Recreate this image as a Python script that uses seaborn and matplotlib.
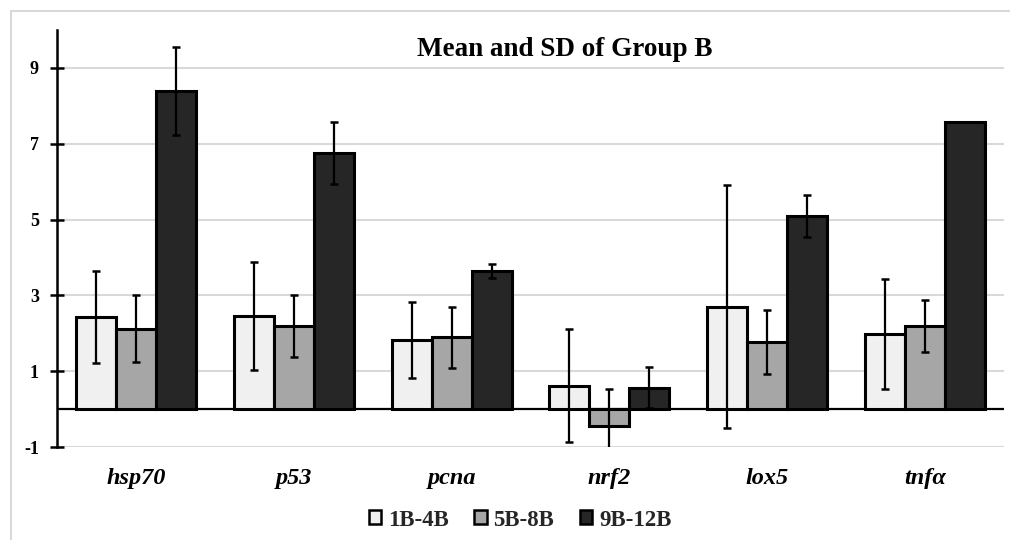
import numpy as np
import pandas as pd
import matplotlib
matplotlib.use("Agg")
import matplotlib.pyplot as plt
import seaborn as sns
from matplotlib.patches import Rectangle, Patch

genes = ["hsp70", "p53", "pcna", "nrf2", "lox5", "tnfα"]
groups = ["1B-4B", "5B-8B", "9B-12B"]
mean_1_4 = [2.43, 2.45, 1.82, 0.62, 2.70, 1.98]
mean_5_8 = [2.12, 2.19, 1.89, -0.44, 1.77, 2.20]
mean_9_12 = [8.40, 6.76, 3.64, 0.56, 5.10, 7.56]
sd_1_4 = [1.21, 1.42, 1.01, 1.49, 3.21, 1.45]
sd_5_8 = [0.88, 0.82, 0.80, 0.98, 0.84, 0.69]
sd_9_12 = [1.16, 0.82, 0.19, 0.54, 0.56, np.nan]
y_ticks = [-1, 1, 3, 5, 7, 9]
title = "Mean and SD of Group B"

colors = ["#f0f0f0", "#a6a6a6", "#262626"]

sns.set_theme(style="white")
plt.rcParams['font.family'] = ['Liberation Serif', 'DejaVu Serif']
plt.rcParams['axes.unicode_minus'] = False

rows = []
for grp, means in zip(groups, [mean_1_4, mean_5_8, mean_9_12]):
    for g, m in zip(genes, means):
        rows.append({"gene": g, "group": grp, "mean": m})
df = pd.DataFrame(rows)

W, H = 1010, 540
fig = plt.figure(figsize=(W / 100, H / 100), dpi=100)
fig.patch.set_facecolor("white")
ax = fig.add_axes([57 / W, 1 - 447 / H, (1004 - 57) / W, (447 - 30) / H])

ax.set_axisbelow(True)
ax.yaxis.grid(True, color="#d9d9d9", lw=1.5)
ax.xaxis.grid(False)
ax.axhline(0, color="black", lw=1.6, zorder=1.5)

sns.barplot(data=df, x="gene", y="mean", hue="group", order=genes,
            hue_order=groups, palette=colors, saturation=1, width=0.76,
            edgecolor="black", linewidth=2.2, errorbar=None, legend=False,
            ax=ax, zorder=2)

for cont, sds in zip(ax.containers, [sd_1_4, sd_5_8, sd_9_12]):
    for bar, sd in zip(cont, sds):
        if np.isnan(sd):
            continue
        x = bar.get_x() + bar.get_width() / 2
        yv = bar.get_y() + bar.get_height()
        ax.errorbar(x, yv, yerr=sd, fmt="none", ecolor="black", elinewidth=1.6,
                    capsize=3.2, capthick=1.8, zorder=4)

ax.set_ylim(-1, 10)
ax.set_xlim(-0.5, 5.5)
ax.set_yticks(y_ticks)
ax.set_yticklabels([str(t) for t in y_ticks])
ax.set_xlabel("")
ax.set_ylabel("")
for s in ["top", "right", "bottom"]:
    ax.spines[s].set_visible(False)
ax.spines["left"].set_color("black")
ax.spines["left"].set_linewidth(1.8)
ax.tick_params(axis="y", direction="inout", length=10, width=1.8, color="black",
               left=True, labelsize=13, pad=8, labelcolor="black")
plt.setp(ax.get_yticklabels(), fontweight="bold")
ax.set_xticks(range(len(genes)))
ax.set_xticklabels(genes, fontstyle="italic", fontweight="bold", fontsize=17.5,
                   color="black")
ax.tick_params(axis="x", length=0, pad=15)

ax.text((565 - 57) / (1004 - 57), (447 - 49) / (447 - 30), title,
        transform=ax.transAxes, ha="center", va="center", fontsize=19.5,
        fontweight="bold", color="black")

handles = [Patch(facecolor=c, edgecolor="black", lw=1.8, label=g)
           for c, g in zip(colors, groups)]
fig.legend(handles=handles, loc="center", bbox_to_anchor=(520 / W, 1 - 520 / H),
           ncol=3, frameon=False, prop={"weight": "bold", "size": 16.5},
           handlelength=0.55, handleheight=0.55, handletextpad=0.3,
           columnspacing=1.1)

fig.add_artist(Rectangle((11 / W, -0.1), 2.0, 1.1 - 11 / H,
                         transform=fig.transFigure, fill=False,
                         edgecolor="#d9d9d9", lw=1.5))

fig.savefig("out.png", dpi=100)
